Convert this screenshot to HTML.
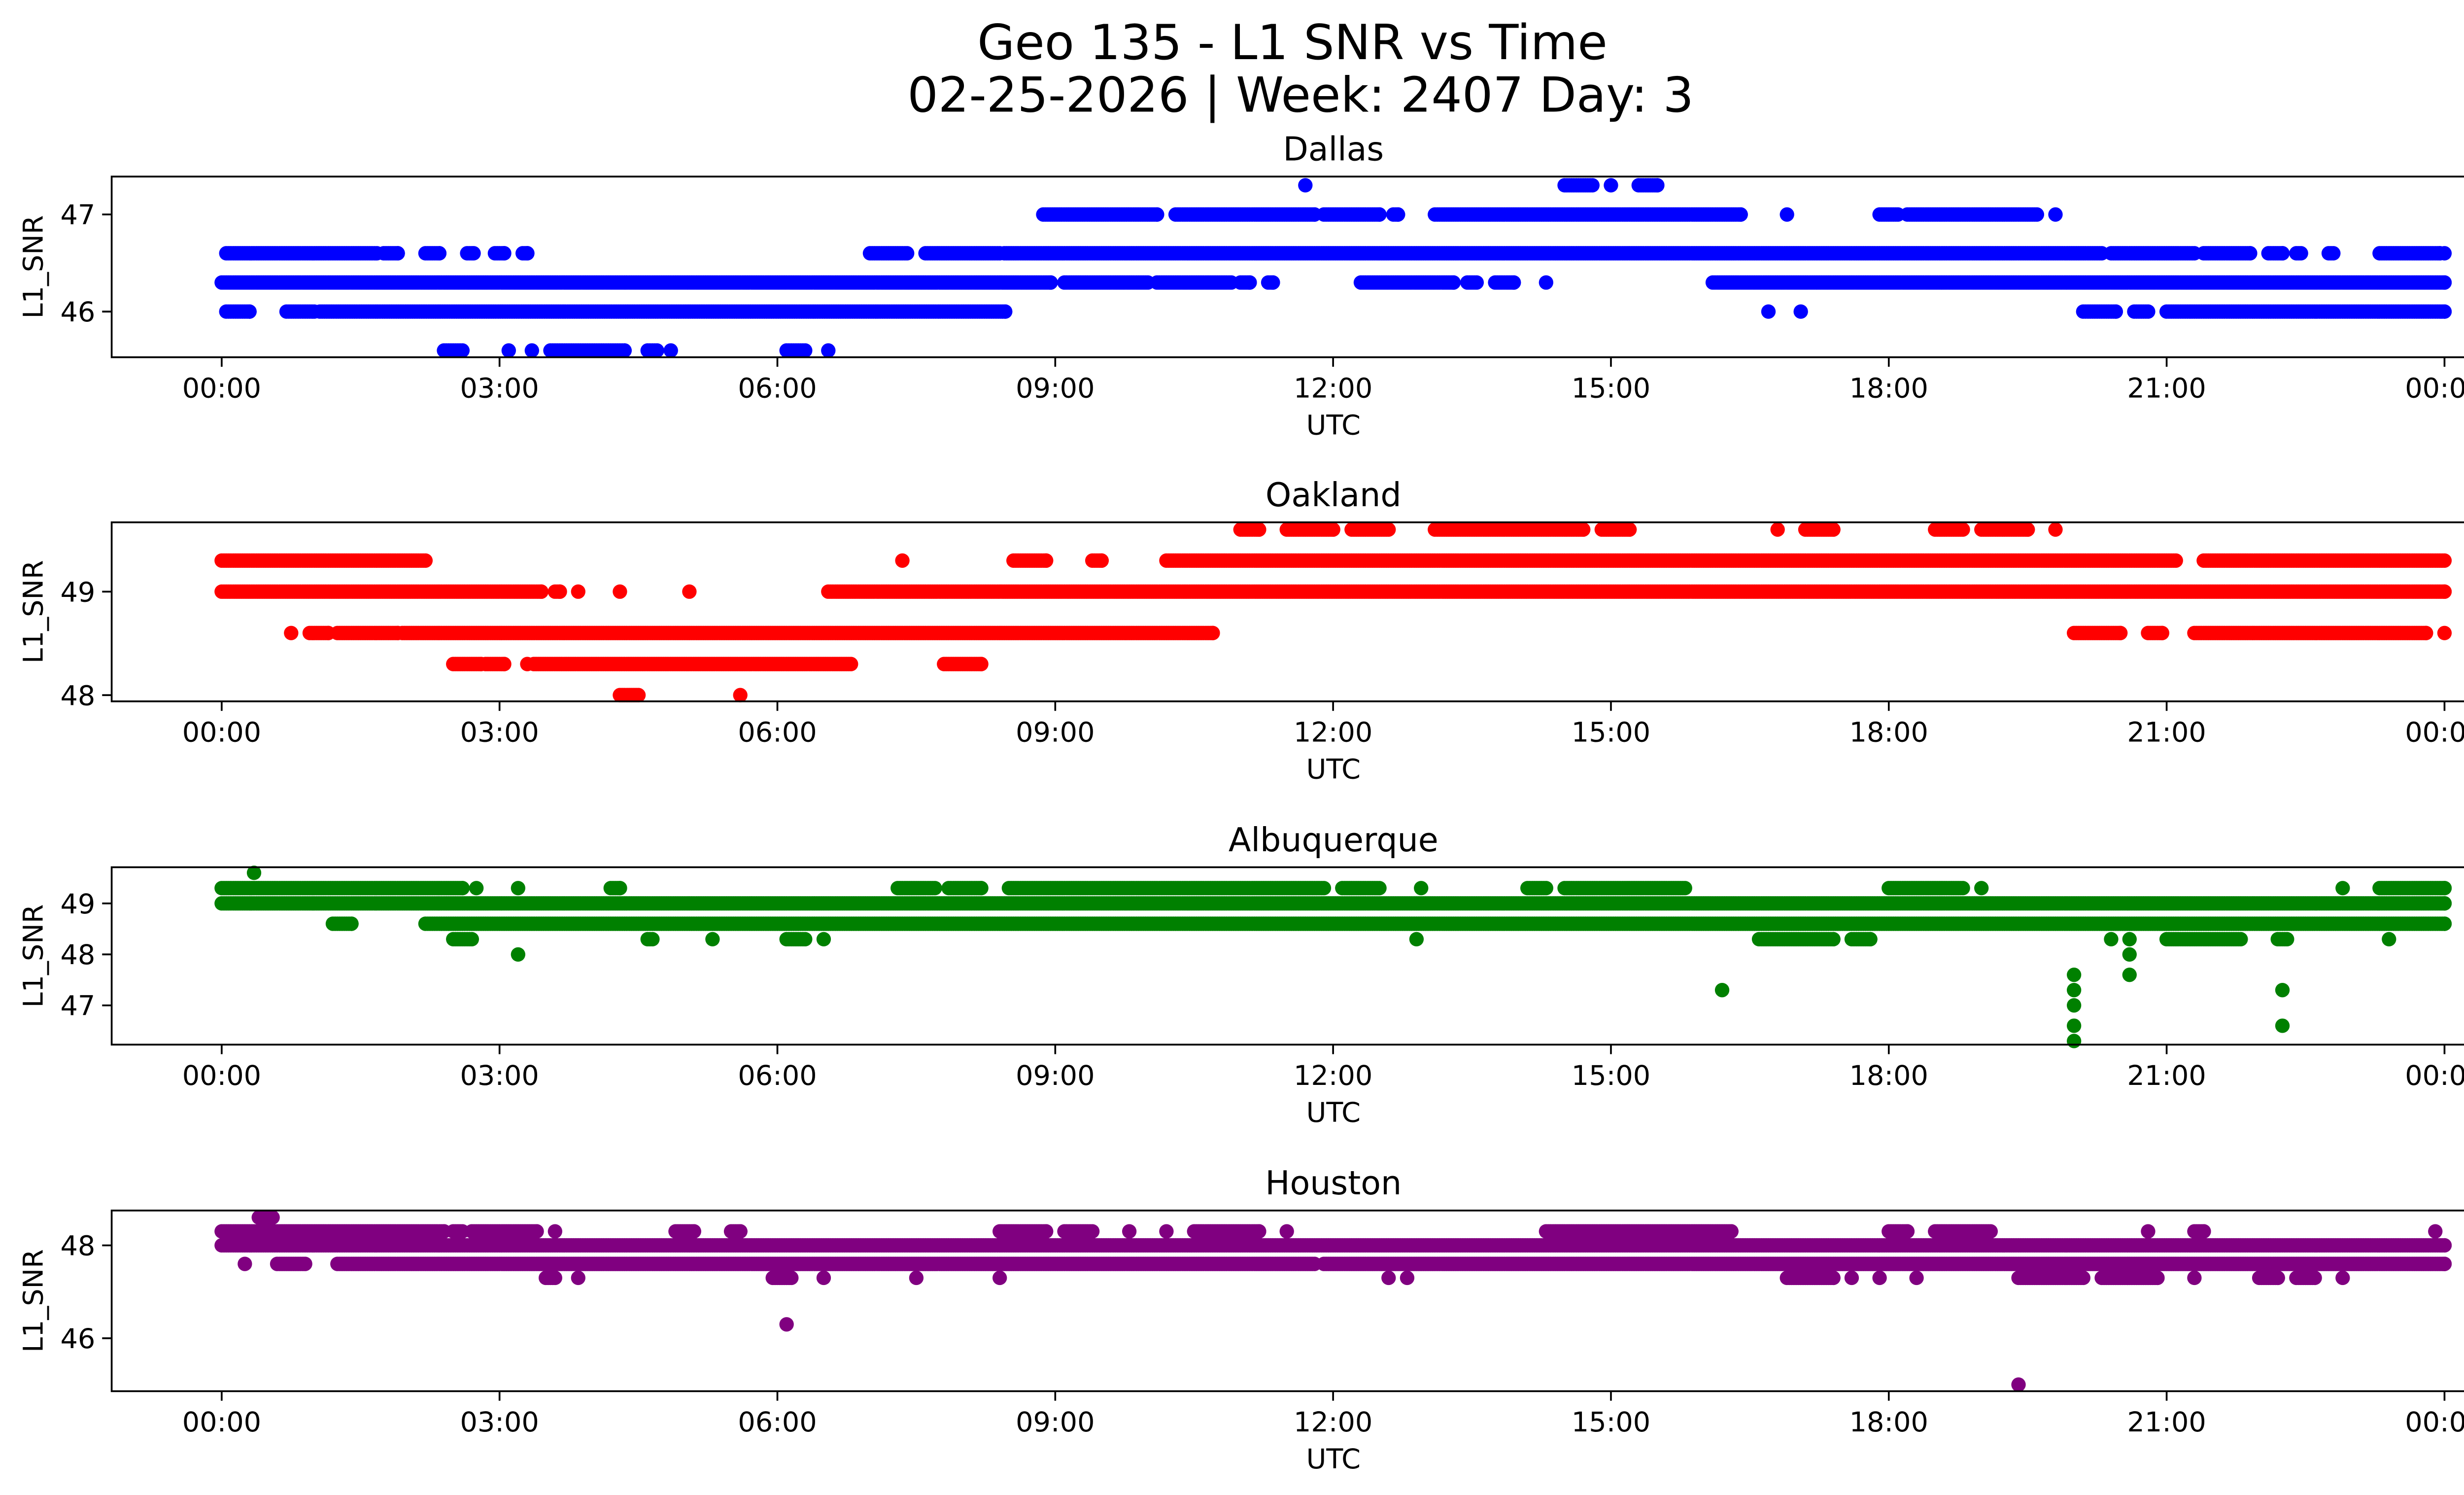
<!DOCTYPE html>
<html><head><meta charset="utf-8"><style>
html,body{margin:0;padding:0;background:#fff;width:5225px;height:3033px;overflow:hidden;}
svg{display:block;width:5225px;height:3033px;}
text{font-family:"DejaVu Sans","Liberation Sans",sans-serif;fill:#000;}
</style></head><body>
<svg id="chart" width="5225" height="3033" viewBox="0 0 1568 910.2" preserveAspectRatio="none" xmlns="http://www.w3.org/2000/svg">
<text x="787" y="36" font-size="29.5" text-anchor="middle">Geo 135 - L1 SNR vs Time</text>
<text x="792" y="68" font-size="29.5" text-anchor="middle">02-25-2026 | Week: 2407 Day: 3</text>
<g id="plots"></g>
</svg>
<script>
// Tick labels (hours)
const tickHours = [0, 3, 6, 9, 12, 15, 18, 21, 24];
const tickLabels = ["00:00","03:00","06:00","09:00","12:00","15:00","18:00","21:00","00:00"];

// Runs: [startHour, endHour, snr]
const dallasRuns = [
 [0.05,1.68,46.6],[1.75,1.9,46.6],[2.2,2.35,46.6],[2.65,2.72,46.6],[2.95,3.05,46.6],[3.25,3.3,46.6],
 [7.0,7.4,46.6],[7.6,8.4,46.6],[8.45,20.3,46.6],[20.4,21.3,46.6],[21.4,21.9,46.6],[22.1,22.25,46.6],[22.4,22.45,46.6],[22.75,22.8,46.6],[23.3,23.95,46.6],[24,24,46.6],
 [0,8.95,46.3],[9.1,10.0,46.3],[10.1,10.9,46.3],[11.0,11.1,46.3],[11.3,11.35,46.3],[12.3,13.3,46.3],[13.45,13.55,46.3],[13.75,13.95,46.3],[14.3,14.3,46.3],[16.1,24,46.3],
 [0.05,0.3,46.0],[0.7,1.0,46.0],[1.06,8.46,46.0],[16.7,16.7,46.0],[17.05,17.05,46.0],[20.1,20.45,46.0],[20.65,20.8,46.0],[21.0,24,46.0],
 [2.4,2.6,45.6],[3.1,3.1,45.6],[3.35,3.35,45.6],[3.55,4.35,45.6],[4.6,4.7,45.6],[4.85,4.85,45.6],[6.1,6.3,45.6],[6.55,6.55,45.6],
 [8.87,10.1,47.0],[10.3,11.8,47.0],[11.9,12.5,47.0],[12.65,12.7,47.0],[13.1,16.4,47.0],[16.9,16.9,47.0],[17.9,18.1,47.0],[18.2,19.6,47.0],[19.8,19.8,47.0],
 [11.7,11.7,47.3],[14.5,14.8,47.3],[15.0,15.0,47.3],[15.3,15.5,47.3]
];
const oaklandRuns = [
 [0,2.2,49.3],[7.35,7.35,49.3],[8.55,8.9,49.3],[9.4,9.5,49.3],[10.2,21.1,49.3],[21.4,24,49.3],
 [0,3.45,49.0],[3.6,3.65,49.0],[3.85,3.85,49.0],[4.3,4.3,49.0],[5.05,5.05,49.0],[6.55,24,49.0],
 [0.75,0.75,48.6],[0.95,1.15,48.6],[1.25,1.9,48.6],[1.95,10.7,48.6],[20.0,20.5,48.6],[20.8,20.95,48.6],[21.3,23.8,48.6],[24,24,48.6],
 [2.5,2.8,48.3],[2.85,3.05,48.3],[3.3,3.3,48.3],[3.37,6.8,48.3],[7.8,8.2,48.3],
 [4.3,4.5,48.0],[5.6,5.6,48.0],
 [11.0,11.2,49.6],[11.5,12.0,49.6],[12.2,12.6,49.6],[13.1,14.7,49.6],[14.9,15.2,49.6],[16.8,16.8,49.6],[17.1,17.4,49.6],[18.5,18.8,49.6],[19.0,19.5,49.6],[19.8,19.8,49.6]
];
const albuquerqueRuns = [
 [0.35,0.35,49.6],
 [0,2.6,49.3],[2.75,2.75,49.3],[3.2,3.2,49.3],[4.2,4.3,49.3],[7.3,7.7,49.3],[7.85,8.2,49.3],[8.5,11.9,49.3],[12.1,12.5,49.3],[12.95,12.95,49.3],[14.1,14.3,49.3],[14.5,15.8,49.3],[18.0,18.8,49.3],[19.0,19.0,49.3],[22.9,22.9,49.3],[23.3,24,49.3],
 [0,24,49.0],
 [1.2,1.4,48.6],[2.2,24,48.6],
 [2.5,2.7,48.3],[4.6,4.65,48.3],[5.3,5.3,48.3],[6.1,6.3,48.3],[6.5,6.5,48.3],[12.9,12.9,48.3],[16.6,17.4,48.3],[17.6,17.8,48.3],[20.4,20.4,48.3],[20.6,20.6,48.3],[21.0,21.8,48.3],[22.2,22.3,48.3],[23.4,23.4,48.3],
 [3.2,3.2,48.0],[20.6,20.6,48.0],
 [20.0,20.0,47.6],[20.6,20.6,47.6],
 [16.2,16.2,47.3],[20.0,20.0,47.3],[22.25,22.25,47.3],
 [20.0,20.0,47.0],[20.0,20.0,46.6],[22.25,22.25,46.6],[20.0,20.0,46.3]
];
const houstonRuns = [
 [0.4,0.55,48.6],
 [0,2.4,48.3],[2.5,2.6,48.3],[2.7,3.4,48.3],[3.6,3.6,48.3],[4.9,5.1,48.3],[5.5,5.6,48.3],[8.4,8.9,48.3],[9.1,9.4,48.3],[9.8,9.8,48.3],[10.2,10.2,48.3],[10.5,11.2,48.3],[11.5,11.5,48.3],[14.3,16.3,48.3],[18.0,18.2,48.3],[18.5,19.1,48.3],[20.8,20.8,48.3],[21.3,21.4,48.3],[23.9,23.9,48.3],
 [0,24,48.0],
 [0.25,0.25,47.6],[0.6,0.9,47.6],[1.25,11.8,47.6],[11.9,24,47.6],
 [3.5,3.6,47.3],[3.85,3.85,47.3],[5.95,6.15,47.3],[6.5,6.5,47.3],[7.5,7.5,47.3],[8.4,8.4,47.3],[12.6,12.6,47.3],[12.8,12.8,47.3],[16.9,17.4,47.3],[17.6,17.6,47.3],[17.9,17.9,47.3],[18.3,18.3,47.3],[19.4,20.1,47.3],[20.3,20.9,47.3],[21.3,21.3,47.3],[22.0,22.2,47.3],[22.4,22.6,47.3],[22.9,22.9,47.3],
 [6.1,6.1,46.3],[19.4,19.4,45.0]
];
const dallasTicks=[46,47], oaklandTicks=[48,49], albuquerqueTicks=[47,48,49], houstonTicks=[46,48];

const panels = [
 {name:"dallas", title:"Dallas", runs:dallasRuns, ticks:dallasTicks, color:"#0000ff", top:107.5, bottom:217.5, ymin:45.53, ymax:47.39},
 {name:"oakland", title:"Oakland", runs:oaklandRuns, ticks:oaklandTicks, color:"#ff0000", top:318, bottom:427, ymin:47.94, ymax:49.67},
 {name:"albuquerque", title:"Albuquerque", runs:albuquerqueRuns, ticks:albuquerqueTicks, color:"#008000", top:528, bottom:636, ymin:46.23, ymax:49.71},
 {name:"houston", title:"Houston", runs:houstonRuns, ticks:houstonTicks, color:"#800080", top:737, bottom:847, ymin:44.86, ymax:48.75}
];
const NS="http://www.w3.org/2000/svg";
const L=68, R=1556;
function xs(h){return 135+h*56.4;}
function mk(tag,attrs,parent){const e=document.createElementNS(NS,tag);for(const k in attrs)e.setAttribute(k,attrs[k]);parent.appendChild(e);return e;}
const root=document.getElementById('plots');
panels.forEach(p=>{
 const ys=v=>p.bottom-(v-p.ymin)/(p.ymax-p.ymin)*(p.bottom-p.top);
 const g=mk('g',{},root);
 
 
 const t=mk('text',{x:(L+R)/2,y:p.top-9.8,'font-size':'20','text-anchor':'middle'},g);
 t.textContent=p.title;
 
 
 const pts=mk('g',{fill:p.color},g);
 
 
 p.runs.forEach(r=>{
  const step=0.025;
  for(let h=r[0];h<=r[1]+1e-9;h+=step){
   mk('circle',{cx:xs(h).toFixed(1),cy:ys(r[2]).toFixed(1),r:4.4},pts);
  }
  if((r[1]-r[0])%step>0.005){mk('circle',{cx:xs(r[1]).toFixed(1),cy:ys(r[2]).toFixed(1),r:4.4},pts);}
 });
 const frame=mk('rect',{x:L,y:p.top,width:R-L,height:p.bottom-p.top,fill:'none',stroke:'#000','stroke-width':1.1},g);
 
 
 tickHours.forEach((h,i)=>{
  mk('line',{x1:xs(h),x2:xs(h),y1:p.bottom,y2:p.bottom+5.8,stroke:'#000','stroke-width':1.1},g);
  const tl=mk('text',{x:xs(h),y:p.bottom+24.5,'font-size':'16.7','text-anchor':'middle'},g);
  tl.textContent=tickLabels[i];
  
  
 });
 p.ticks.forEach(v=>{
  mk('line',{x1:L-5.8,x2:L,y1:ys(v),y2:ys(v),stroke:'#000','stroke-width':1.1},g);
  const yl=mk('text',{x:L-10,y:ys(v)+6,'font-size':'16.7','text-anchor':'end'},g);
  yl.textContent=String(v);
  
  
 });
 const xl=mk('text',{x:(L+R)/2,y:p.bottom+47,'font-size':'16.7','text-anchor':'middle'},g);
 xl.textContent='UTC';
 
 
 const my=(p.top+p.bottom)/2;
 const yt=mk('text',{x:26,y:my,'font-size':'16.7','text-anchor':'middle',transform:'rotate(-90 26 '+my+')'},g);
 yt.textContent='L1_SNR';
 
 
});
</script>
</body></html>
